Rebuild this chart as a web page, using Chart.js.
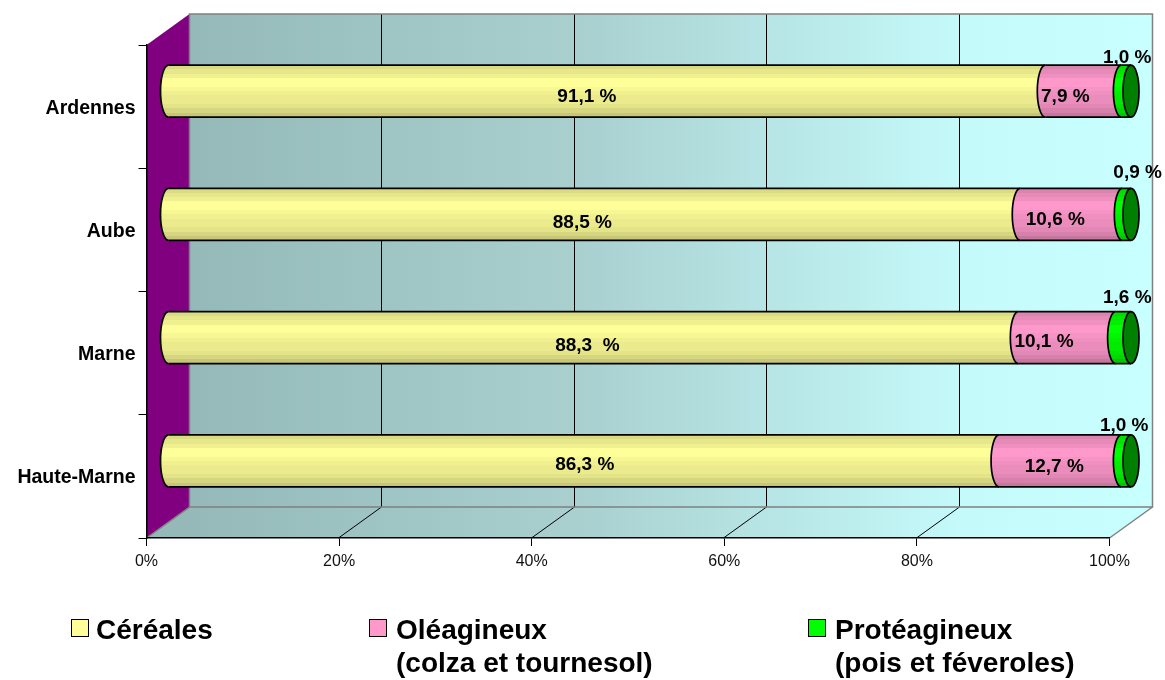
<!DOCTYPE html>
<html><head><meta charset="utf-8">
<script src="https://cdn.jsdelivr.net/npm/chart.js@4/dist/chart.umd.min.js"></script>
<style>html,body{margin:0;padding:0;background:#fff}#w{position:relative;width:1165px;height:680px}canvas{display:block}</style>
</head><body><div id="w"><canvas id="c" width="1165" height="680"></canvas></div>
<script>
// ---- data ----
const categories = ['Ardennes', 'Aube', 'Marne', 'Haute-Marne'];
const cereales = [91.1, 88.5, 88.3, 86.3];
const oleagineux = [7.9, 10.6, 10.1, 12.7];
const proteagineux = [1.0, 0.9, 1.6, 1.0];
const cerealesLabels = ['91,1 %', '88,5 %', '88,3  %', '86,3 %'];
const oleagineuxLabels = ['7,9 %', '10,6 %', '10,1 %', '12,7 %'];
const proteagineuxLabels = ['1,0 %', '0,9 %', '1,6 %', '1,0 %'];
const xTicks = [0, 20, 40, 60, 80, 100];
const legendLines = [['Céréales'], ['Oléagineux', '(colza et tournesol)'], ['Protéagineux', '(pois et féveroles)']];

// ---- layout / style (not data) ----
const FONT = '"Liberation Sans", Arial, sans-serif';
const PLOT = {left: 146.5, right: 1109.5, top: 45, bottom: 538};
const DEPTH = {x: 43, y: -31};      // wall offset
const BAR = {x: 21.5, y: -15.5};    // bars stand half way into the depth
const CAP_RX = 8;
const ramps = [
  ['#ffff99'], ['#ff99cc'], ['#00ff00']
];
const labelNudge = [
  [[-20, 6], [-12, 8], [-6, 8], [1, 4]],
  [[-18, 6], [-16, 5], [-23, 4], [-6, 6]],
  [[1, -33], [11, -42], [4, -40], [-2, -35]]
];
const legendPos = [
  {box: 71, text: 96}, {box: 369, text: 396}, {box: 808, text: 835}
];
const swatches = ['#ffff99', '#ff99cc', '#00ff00'];
const labelSets = [cerealesLabels, oleagineuxLabels, proteagineuxLabels];

function shade(hex, f) {
  const n = parseInt(hex.slice(1), 16);
  const c = [n >> 16 & 255, n >> 8 & 255, n & 255].map(v => Math.round(v * f));
  return `rgb(${c[0]},${c[1]},${c[2]})`;
}
// cylinder shading in flat bands, as in the reference
const bandFactors = [0.86, 0.90, 0.94, 1, 1, 0.97, 0.94, 0.92, 0.92, 0.89, 0.84, 0.78];
function bandFill(context, base) {
  const chart = context.chart;
  if (context.dataIndex === undefined || !chart.scales.y) return base;
  const yc = chart.scales.y.getPixelForValue(context.dataIndex);
  const h = chart.scales.y.height / categories.length * chart.data.datasets[0].barPercentage;
  if (!isFinite(yc) || !isFinite(h)) return base;
  const g = chart.ctx.createLinearGradient(0, yc - h / 2, 0, yc + h / 2);
  bandFactors.forEach((f, i) => {
    const col = shade(base, f);
    g.addColorStop(i / bandFactors.length, col);
    g.addColorStop((i + 1) / bandFactors.length, col);
  });
  return g;
}

const walls = {
  id: 'walls',
  beforeDraw(chart) {
    const c = chart.ctx, x = chart.scales.x;
    const L = PLOT.left, R = PLOT.right, T = PLOT.top, B = PLOT.bottom;
    const g = c.createLinearGradient(L + DEPTH.x, 0, R + DEPTH.x, 0);
    g.addColorStop(0, '#95b9b9');
    g.addColorStop(0.40, '#a9cfcf');
    g.addColorStop(0.80, '#c5fafa');
    g.addColorStop(1, '#c8ffff');
    c.save();
    // back wall + floor
    c.fillStyle = g;
    c.beginPath();
    c.moveTo(L + DEPTH.x, T + DEPTH.y);
    c.lineTo(R + DEPTH.x, T + DEPTH.y);
    c.lineTo(R + DEPTH.x, B + DEPTH.y);
    c.lineTo(R, B);
    c.lineTo(L, B);
    c.lineTo(L + DEPTH.x, B + DEPTH.y);
    c.closePath();
    c.fill();
    // left wall
    c.fillStyle = '#800080';
    c.beginPath();
    c.moveTo(L, T);
    c.lineTo(L + DEPTH.x, T + DEPTH.y);
    c.lineTo(L + DEPTH.x, B + DEPTH.y);
    c.lineTo(L, B);
    c.closePath();
    c.fill();
    // grid lines
    c.strokeStyle = '#000';
    c.lineWidth = 1;
    xTicks.slice(1, -1).forEach(v => {
      const px = Math.round(x.getPixelForValue(v)) - 0.5;
      c.beginPath();
      c.moveTo(px, B);
      c.lineTo(px + DEPTH.x, B + DEPTH.y);
      c.lineTo(px + DEPTH.x, T + DEPTH.y);
      c.stroke();
    });
    // gray frame
    c.strokeStyle = '#808080';
    c.lineWidth = 1.5;
    c.beginPath();
    c.moveTo(L, B);
    c.lineTo(L + DEPTH.x, B + DEPTH.y);
    c.lineTo(L + DEPTH.x, T + DEPTH.y);
    c.lineTo(R + DEPTH.x, T + DEPTH.y);
    c.lineTo(R + DEPTH.x, B + DEPTH.y);
    c.lineTo(L + DEPTH.x, B + DEPTH.y);
    c.moveTo(R + DEPTH.x, B + DEPTH.y);
    c.lineTo(R, B);
    c.stroke();
    c.restore();
  },
  beforeDatasetsDraw(chart) {
    chart.ctx.save();
    chart.ctx.translate(BAR.x, BAR.y);
  },
  afterDatasetsDraw(chart) {
    const c = chart.ctx;
    c.strokeStyle = '#000';
    c.lineWidth = 1.7;
    chart.data.datasets.forEach((ds, di) => {
      chart.getDatasetMeta(di).data.forEach(el => {
        const h = el.height / 2;
        c.fillStyle = el.options.backgroundColor;
        c.beginPath();
        c.ellipse(el.base, el.y, CAP_RX, h, 0, Math.PI / 2, Math.PI * 1.5);
        c.lineTo(el.base + 2, el.y - h);
        c.lineTo(el.base + 2, el.y + h);
        c.closePath();
        c.fill();
        c.beginPath();
        c.ellipse(el.base, el.y, CAP_RX, h, 0, Math.PI / 2, Math.PI * 1.5);
        c.stroke();
        c.beginPath();
        c.moveTo(el.base, el.y - h); c.lineTo(el.x, el.y - h);
        c.moveTo(el.base, el.y + h); c.lineTo(el.x, el.y + h);
        c.stroke();
        if (di === chart.data.datasets.length - 1) {
          c.fillStyle = '#008000';
          c.beginPath();
          c.ellipse(el.x, el.y, CAP_RX, h, 0, 0, Math.PI * 2);
          c.fill();
          c.stroke();
        }
      });
    });
    c.restore();
  },
  afterDraw(chart) {
    const c = chart.ctx;
    c.save();
    // value labels
    c.fillStyle = '#000';
    c.font = 'bold 19px ' + FONT;
    c.textAlign = 'center';
    c.textBaseline = 'middle';
    labelSets.forEach((set, di) => {
      chart.getDatasetMeta(di).data.forEach((el, i) => {
        const mx = (el.base + el.x) / 2 + BAR.x;
        c.fillText(set[i], mx + labelNudge[di][i][0], el.y + BAR.y + labelNudge[di][i][1]);
      });
    });
    // legend
    c.textAlign = 'left';
    c.textBaseline = 'alphabetic';
    c.font = 'bold 28px ' + FONT;
    legendLines.forEach((lines, i) => {
      c.fillStyle = swatches[i];
      c.strokeStyle = '#000';
      c.lineWidth = 1;
      c.fillRect(legendPos[i].box + 0.5, 619.5, 17, 17);
      c.strokeRect(legendPos[i].box + 0.5, 619.5, 17, 17);
      c.fillStyle = '#000';
      lines.forEach((t, k) => c.fillText(t, legendPos[i].text, 639 + k * 33));
    });
    c.restore();
  }
};

const mkDs = (label, data, k) => ({
  label, data,
  barPercentage: 52 / 123.25,
  categoryPercentage: 1,
  borderWidth: 0,
  backgroundColor: ctx => bandFill(ctx, ramps[k][0]),
  clip: false
});

new Chart(document.getElementById('c'), {
  type: 'bar',
  data: {
    labels: categories,
    datasets: [mkDs('Céréales', cereales, 0), mkDs('Oléagineux', oleagineux, 1), mkDs('Protéagineux', proteagineux, 2)]
  },
  plugins: [walls],
  options: {
    indexAxis: 'y',
    responsive: false,
    animation: false,
    devicePixelRatio: 1,
    layout: {padding: {left: 0, top: PLOT.top, right: 1165 - PLOT.right, bottom: 0}},
    plugins: {legend: {display: false}, tooltip: {enabled: false}, title: {display: false}},
    scales: {
      x: {
        stacked: true, min: 0, max: 100,
        afterBuildTicks: s => { s.ticks = xTicks.map(value => ({value})); },
        afterFit: s => { s.height = 680 - PLOT.bottom; },
        grid: {drawOnChartArea: false, color: '#000', tickLength: 8, lineWidth: 1},
        border: {color: '#000', width: 1.5},
        ticks: {maxRotation: 0, autoSkip: false, color: '#111', padding: 6, font: {family: FONT, size: 16}, callback: v => v + '%'}
      },
      y: {
        stacked: true,
        afterFit: s => { s.width = PLOT.left; },
        grid: {drawOnChartArea: false, color: '#000', tickLength: 8, lineWidth: 1},
        border: {color: '#000', width: 1.5},
        ticks: {color: '#000', padding: 3, autoSkip: false, labelOffset: 1.5, font: {family: FONT, size: 19.5, weight: 'bold'}}
      }
    }
  }
});
</script>
</body></html>
